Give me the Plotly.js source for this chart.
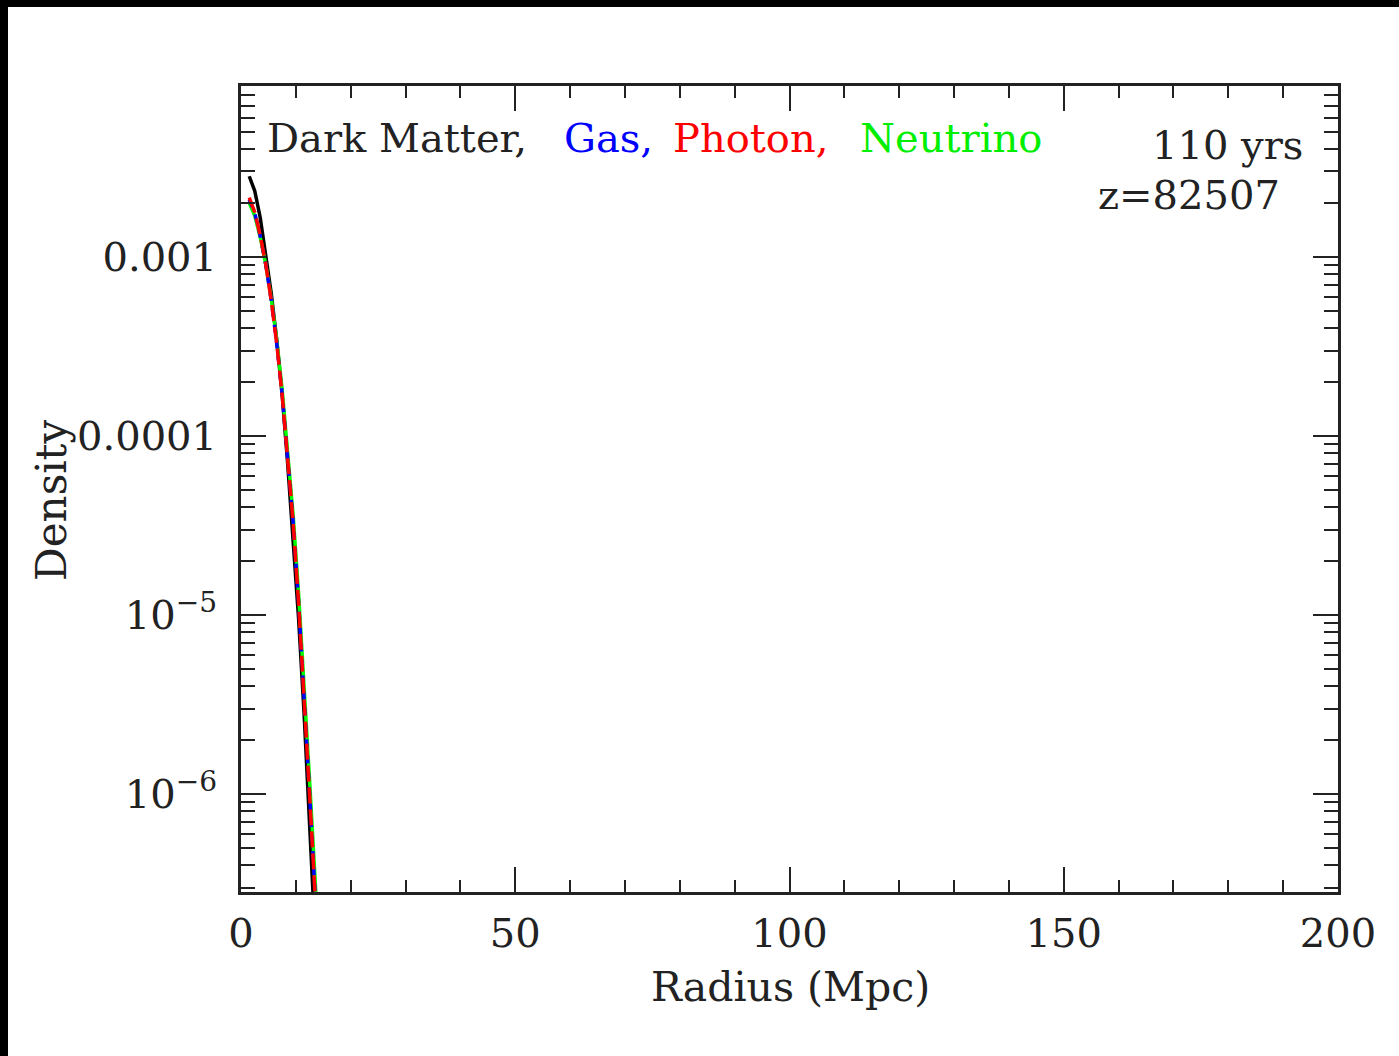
<!DOCTYPE html>
<html>
<head>
<meta charset="utf-8">
<script src="https://cdn.plot.ly/plotly-3.0.1.min.js"></script>
<style>
  html, body { margin: 0; padding: 0; background: #000; width: 1399px; height: 1056px; overflow: hidden; }
  #chart { position: absolute; left: 8px; top: 7px; width: 1391px; height: 1049px; background: #fff; }
</style>
</head>
<body>
<div id="chart"></div>
<script>
// Radius (Mpc)
const radius = [1.5, 2.5, 3.5, 4.5, 5.5, 6.5, 7.5, 8.5, 9.5, 10.5, 11.5, 12.5, 13.5, 14.5];
// Density profiles
const darkMatter = [2.82e-3, 2.34e-3, 1.66e-3, 1.047e-3, 6.31e-4, 3.47e-4, 1.70e-4, 7.08e-5, 2.75e-5, 9.55e-6, 2.82e-6, 7.59e-7, 1.78e-7, 4.0e-8];
const gas        = [2.09e-3, 1.76e-3, 1.31e-3, 9.10e-4, 5.76e-4, 3.32e-4, 1.71e-4, 7.62e-5, 3.33e-5, 1.18e-5, 3.76e-6, 1.02e-6, 2.80e-7, 7.3e-8];
const photon     = [2.14e-3, 1.78e-3, 1.32e-3, 9.12e-4, 5.75e-4, 3.31e-4, 1.70e-4, 7.59e-5, 3.31e-5, 1.175e-5, 3.72e-6, 1.00e-6, 2.75e-7, 7.1e-8];
const neutrino   = [2.00e-3, 1.70e-3, 1.29e-3, 9.12e-4, 5.89e-4, 3.47e-4, 1.82e-4, 8.32e-5, 3.63e-5, 1.32e-5, 4.27e-6, 1.20e-6, 3.39e-7, 8.9e-8];

const yTickVals = [1e-6, 1e-5, 1e-4, 1e-3];
const yTickText = ["10<sup>\u22126</sup>", "10<sup>\u22125</sup>", "0.0001", "0.001"];
const xTickVals = [0, 50, 100, 150, 200];
const xTickText = ["0", "50", "100", "150", "200"];

const legendWords = ["Dark Matter,", "Gas,", "Photon,", "Neutrino"];
const legendColors = ["#222222", "#0000ff", "#ff0000", "#00ee00"];
const epoch = "110 yrs";
const redshift = "z=82507";

const FONT = "DejaVu Serif, Liberation Serif, serif";
const TXT = "#222";

const yMinor = [];
for (let e = -7; e <= -3; e++) {
  for (let m = 2; m <= 9; m++) yMinor.push(m * Math.pow(10, e));
}

const traces = [
  {x: radius, y: darkMatter, mode: "lines", name: "Dark Matter", line: {color: "#000000", width: 3.5}},
  {x: radius, y: neutrino, mode: "lines", name: "Neutrino", line: {color: "#00ff00", width: 3.5}},
  {x: radius, y: gas, mode: "lines", name: "Gas", line: {color: "#0000ff", width: 3.5, dash: "8px,8px"}},
  {x: radius, y: photon, mode: "lines", name: "Photon", line: {color: "#ff0000", width: 3.5, dash: "16px,6px"}}
];

const axisCommon = {
  showgrid: false,
  zeroline: false,
  showline: true,
  linecolor: "#222",
  linewidth: 3,
  mirror: "allticks",
  ticks: "inside",
  tickcolor: "#222",
  tickwidth: 2,
  ticklen: 25,
  tickfont: {family: FONT, size: 40, color: TXT},
  tickmode: "array"
};

// legend word left edges, in paper fraction of the plot width
const legendX = [0.0219, 0.2927, 0.3921, 0.5625];

const annotations = [
  {xref: "paper", yref: "paper", x: 0.5005, y: -0.1179, xanchor: "center", yanchor: "middle",
   text: "Radius (Mpc)", showarrow: false, font: {family: FONT, size: 41, color: TXT}},
  {xref: "paper", yref: "paper", x: -0.1723, y: 0.4864, xanchor: "center", yanchor: "middle", textangle: -90,
   text: "Density", showarrow: false, font: {family: FONT, size: 42, color: TXT}},
  {xref: "paper", yref: "paper", x: 0.970, y: 0.9268, xanchor: "right", yanchor: "middle",
   text: epoch, showarrow: false, font: {family: FONT, size: 40, color: TXT}},
  {xref: "paper", yref: "paper", x: 0.949, y: 0.8648, xanchor: "right", yanchor: "middle",
   text: redshift, showarrow: false, font: {family: FONT, size: 40, color: TXT}}
];
legendWords.forEach((w, i) => {
  annotations.push({xref: "paper", yref: "paper", x: legendX[i], y: 0.9355, xanchor: "left", yanchor: "middle",
    text: w, showarrow: false, font: {family: FONT, size: 40, color: legendColors[i]}});
});

const layout = {
  width: 1391,
  height: 1049,
  margin: {l: 233, r: 61, t: 79, b: 164},
  paper_bgcolor: "#ffffff",
  plot_bgcolor: "#ffffff",
  showlegend: false,
  xaxis: Object.assign({}, axisCommon, {
    range: [0, 200],
    tickvals: xTickVals,
    ticktext: xTickText,
    ticklabelstandoff: 4,
    minor: {dtick: 10, ticks: "inside", ticklen: 12, tickwidth: 2, tickcolor: "#222"}
  }),
  yaxis: Object.assign({}, axisCommon, {
    type: "log",
    range: [Math.log10(2.84e-7), Math.log10(9.0e-3)],
    tickvals: yTickVals,
    ticktext: yTickText,
    ticklabelstandoff: 13,
    minor: {tickvals: yMinor, ticks: "inside", ticklen: 14, tickwidth: 2, tickcolor: "#222"}
  }),
  annotations: annotations
};

Plotly.newPlot("chart", traces, layout, {displayModeBar: false, staticPlot: true});
</script>
</body>
</html>
